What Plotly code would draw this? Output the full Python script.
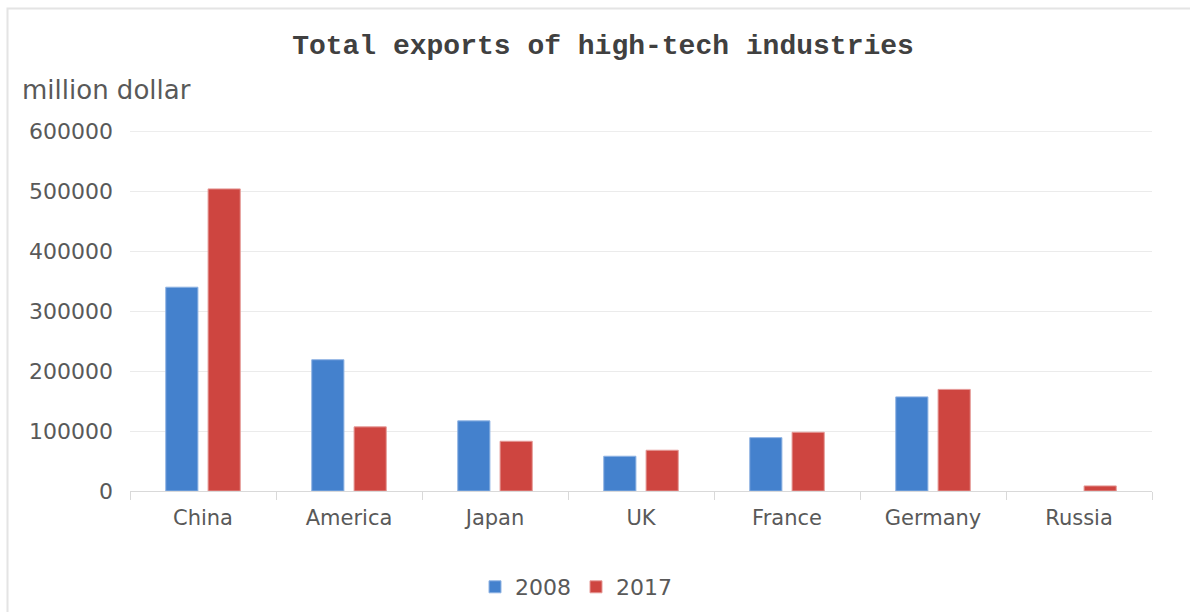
import plotly.graph_objects as go

categories = ["China", "America", "Japan", "UK", "France", "Germany", "Russia"]
exports_2008 = [340000, 219000, 117000, 58000, 89000, 157000, None]
exports_2017 = [504000, 107000, 83000, 68000, 98000, 169500, 8500]
series_names = ["2008", "2017"]
y_ticks = [0, 100000, 200000, 300000, 400000, 500000, 600000]

W, H = 1190, 612
L, R, T, B = 130, 38, 131, 121
pw, ph = W - L - R, H - T - B

def px_x(x):
    return (x - L) / pw

def px_y(y):
    return (H - B - y) / ph

text_color = "#595959"
font_family = "DejaVu Sans"

fig = go.Figure()
fig.add_trace(go.Bar(x=categories, y=exports_2008, name=series_names[0],
                     marker=dict(color="#4481CD", line=dict(color="#8FB3E3", width=1))))
fig.add_trace(go.Bar(x=categories, y=exports_2017, name=series_names[1],
                     marker=dict(color="#CE4540", line=dict(color="#E59A97", width=1))))

fig.update_layout(
    width=W, height=H,
    margin=dict(l=L, r=R, t=T, b=B, autoexpand=False),
    paper_bgcolor="white", plot_bgcolor="white",
    barmode="group", bargap=0.42, bargroupgap=0.24,
    title=dict(text="<b>Total exports of high-tech industries</b>",
               x=603 / W, xref="container", xanchor="center",
               y=1 - 44 / H, yref="container", yanchor="middle",
               font=dict(family="Liberation Mono", size=28, color="#404040")),
    font=dict(family=font_family, size=22, color=text_color),
    showlegend=True,
    legend=dict(orientation="h", x=px_x(576), xanchor="center",
                y=px_y(587), yanchor="middle",
                font=dict(family=font_family, size=22, color=text_color),
                itemwidth=30, traceorder="normal"),
)

fig.update_xaxes(
    automargin=False,
    showline=True, linecolor="#D9D9D9", linewidth=1,
    ticks="outside", ticklen=8, tickcolor="#D9D9D9", tickson="boundaries",
    showgrid=False,
    tickfont=dict(family=font_family, size=21, color=text_color),
    ticklabelstandoff=8,
)
fig.update_yaxes(
    automargin=False,
    range=[0, 600600], tickvals=y_ticks, ticktext=[str(v) for v in y_ticks],
    showgrid=True, gridcolor="#EBEBEB", gridwidth=1,
    zeroline=False, showline=False, ticks="",
    tickfont=dict(family=font_family, size=22, color=text_color),
    ticklabelstandoff=16,
)

# top gridline (at the range end, which plotly would otherwise omit)
fig.add_shape(type="line", xref="paper", yref="y", x0=0, x1=1,
              y0=y_ticks[-1], y1=y_ticks[-1],
              line=dict(color="#EBEBEB", width=1), layer="below")

fig.add_annotation(text="million dollar", xref="paper", yref="paper",
                   x=px_x(20), y=px_y(90), xanchor="left", yanchor="middle",
                   showarrow=False,
                   font=dict(family=font_family, size=26, color=text_color))

fig.add_shape(type="rect", xref="paper", yref="paper",
              x0=px_x(7.5), y0=px_y(8.5), x1=px_x(1210), y1=px_y(640),
              line=dict(color="#E4E4E4", width=2), layer="below")

fig.write_html("out.html")
